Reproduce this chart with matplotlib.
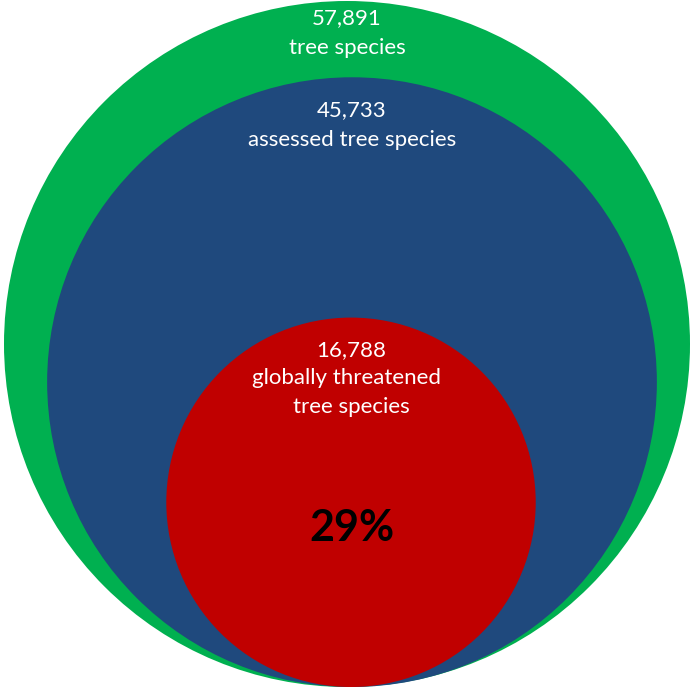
import matplotlib.pyplot as plt
from matplotlib.patches import Circle

# species counts for the nested circles (outer to inner)
labels = ['tree species', 'assessed tree species', 'globally threatened\ntree species']
counts = [57891, 45733, 16788]
colors = ['#00B050', '#1F497D', '#C00000']
share_text = '29%'

plt.rcParams['font.family'] = ['Lato', 'DejaVu Sans']

fig = plt.figure(figsize=(6.93, 6.89), dpi=100)
ax = fig.add_axes([0, 0, 1, 1])
ax.set_xlim(0, 693)
ax.set_ylim(689, 0)
ax.set_aspect('equal')
ax.axis('off')

# circle areas scale with counts, all resting on the same baseline
r_outer = 343
base_y = 687
centre_x = [347, 352, 351]
label_top = [18, 110, 350]
line_gap = [30, 30, 28.5]

for i, (lab, n, col) in enumerate(zip(labels, counts, colors)):
    r = r_outer * (n / counts[0]) ** 0.5
    cy = base_y - r
    ax.add_patch(Circle((centre_x[i], cy), r, facecolor=col, edgecolor='none'))
    lines = [f'{n:,}'] + lab.split('\n')
    for j, line in enumerate(lines):
        ax.text(centre_x[i] - (4 if i == 2 and j == 1 else 0),
                label_top[i] + j * line_gap[i], line, color='white',
                fontsize=16, ha='center', va='center')

ax.text(352, 528, share_text, color='black', fontsize=31, fontweight='bold',
        ha='center', va='center')

fig.savefig('out.png', dpi=100)
